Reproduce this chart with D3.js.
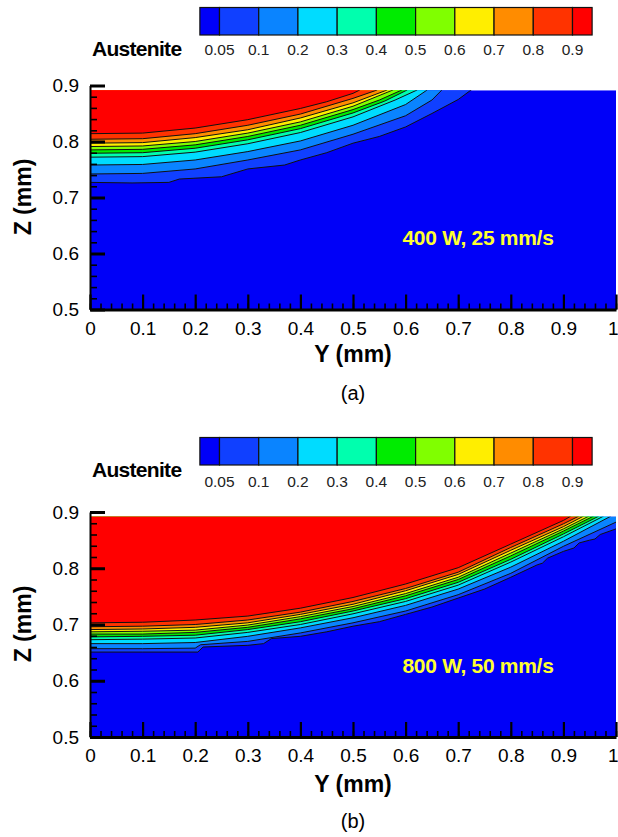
<!DOCTYPE html>
<html><head><meta charset="utf-8">
<script src="https://cdn.jsdelivr.net/npm/d3@7"></script>
<style>body{margin:0;background:#fff}svg{display:block}</style>
</head><body><script>
// ---- data ----
const levels = [0.05, 0.1, 0.2, 0.3, 0.4, 0.5, 0.6, 0.7, 0.8, 0.9];
const levelLabels = ["0.05", "0.1", "0.2", "0.3", "0.4", "0.5", "0.6", "0.7", "0.8", "0.9"];
// band colours: below 0.05, 0.05-0.1, 0.1-0.2, ..., above 0.9
const bandColors = ["#0000f8", "#1040ff", "#0a84ff", "#00dcff", "#00ffae", "#00ec00", "#80ff00", "#ffee00", "#ff8c00", "#ff3300", "#ff0000"];
const xTicks = [0, 0.1, 0.2, 0.3, 0.4, 0.5, 0.6, 0.7, 0.8, 0.9, 1];
const xTickLabels = ["0", "0.1", "0.2", "0.3", "0.4", "0.5", "0.6", "0.7", "0.8", "0.9", "1"];
const zTicks = [0.5, 0.6, 0.7, 0.8, 0.9];
const zTickLabels = ["0.5", "0.6", "0.7", "0.8", "0.9"];
const zDataTop = 0.8915;
const panelTitles = ["(a)", "(b)"];
const conditions = ["400 W, 25 mm/s", "800 W, 50 mm/s"];
const legendTitle = "Austenite";

// contour lines of panel (a): one list of [Y, Z] per level (0.05 ... 0.9)
const contoursA = [
  [[0,0.727],[0.08,0.726],[0.15,0.727],[0.17,0.733],[0.25,0.737],[0.3,0.751],[0.37,0.758],[0.4,0.767],[0.45,0.780],[0.5,0.797],[0.55,0.809],[0.6,0.826],[0.65,0.850],[0.7,0.875],[0.726,0.893],[0.75,0.91]],
  [[0,0.742],[0.1,0.743],[0.2,0.751],[0.3,0.767],[0.4,0.785],[0.5,0.813],[0.6,0.846],[0.65,0.874],[0.669,0.892],[0.69,0.91]],
  [[0,0.758],[0.1,0.759],[0.2,0.767],[0.3,0.782],[0.4,0.801],[0.5,0.829],[0.6,0.866],[0.641,0.892],[0.66,0.91]],
  [[0,0.772],[0.1,0.773],[0.2,0.781],[0.3,0.796],[0.4,0.816],[0.5,0.844],[0.58,0.874],[0.622,0.892],[0.64,0.91]],
  [[0,0.779],[0.1,0.780],[0.2,0.788],[0.3,0.803],[0.4,0.823],[0.5,0.851],[0.56,0.872],[0.603,0.892],[0.62,0.91]],
  [[0,0.785],[0.1,0.786],[0.2,0.794],[0.3,0.809],[0.4,0.829],[0.5,0.857],[0.55,0.874],[0.593,0.892],[0.61,0.91]],
  [[0,0.791],[0.1,0.792],[0.2,0.800],[0.3,0.815],[0.4,0.835],[0.5,0.863],[0.576,0.892],[0.59,0.91]],
  [[0,0.797],[0.1,0.798],[0.2,0.807],[0.3,0.821],[0.4,0.842],[0.5,0.869],[0.565,0.892],[0.58,0.91]],
  [[0,0.804],[0.1,0.805],[0.2,0.814],[0.3,0.829],[0.4,0.849],[0.5,0.877],[0.546,0.892],[0.56,0.91]],
  [[0,0.814],[0.1,0.815],[0.2,0.824],[0.3,0.839],[0.4,0.859],[0.45,0.871],[0.5,0.886],[0.513,0.892],[0.53,0.91]]
];
// contour lines of panel (b)
const contoursB = [
  [[0,0.651],[0.1,0.651],[0.205,0.651],[0.215,0.660],[0.3,0.663],[0.33,0.666],[0.345,0.675],[0.4,0.679],[0.45,0.687],[0.5,0.697],[0.55,0.705],[0.6,0.718],[0.65,0.731],[0.7,0.747],[0.75,0.763],[0.8,0.784],[0.85,0.806],[0.86,0.809],[0.87,0.818],[0.9,0.830],[0.92,0.836],[0.93,0.845],[0.95,0.850],[0.96,0.852],[0.97,0.860],[1.0,0.870],[1.02,0.875]],
  [[0,0.657],[0.1,0.657],[0.2,0.658],[0.21,0.664],[0.3,0.670],[0.4,0.685],[0.5,0.703],[0.6,0.724],[0.7,0.753],[0.8,0.791],[0.9,0.839],[1.0,0.882],[1.02,0.89]],
  [[0,0.666],[0.1,0.666],[0.2,0.668],[0.3,0.679],[0.4,0.694],[0.5,0.712],[0.6,0.734],[0.7,0.763],[0.8,0.802],[0.9,0.848],[0.989,0.892],[1.01,0.91]],
  [[0,0.673],[0.1,0.674],[0.2,0.676],[0.3,0.686],[0.4,0.700],[0.5,0.719],[0.6,0.741],[0.7,0.770],[0.8,0.811],[0.9,0.856],[0.975,0.892],[1.0,0.91]],
  [[0,0.678],[0.1,0.679],[0.2,0.681],[0.3,0.691],[0.4,0.705],[0.5,0.724],[0.6,0.746],[0.7,0.775],[0.8,0.816],[0.9,0.861],[0.966,0.892],[0.99,0.91]],
  [[0,0.683],[0.1,0.683],[0.2,0.686],[0.3,0.695],[0.4,0.710],[0.5,0.728],[0.6,0.751],[0.7,0.780],[0.8,0.822],[0.9,0.866],[0.956,0.892],[0.98,0.91]],
  [[0,0.687],[0.1,0.688],[0.2,0.690],[0.3,0.699],[0.4,0.714],[0.5,0.732],[0.6,0.755],[0.7,0.784],[0.8,0.827],[0.9,0.870],[0.947,0.892],[0.97,0.91]],
  [[0,0.691],[0.1,0.692],[0.2,0.695],[0.3,0.703],[0.4,0.718],[0.5,0.736],[0.6,0.760],[0.7,0.789],[0.8,0.832],[0.9,0.874],[0.937,0.892],[0.96,0.91]],
  [[0,0.696],[0.1,0.697],[0.2,0.700],[0.3,0.708],[0.4,0.722],[0.5,0.741],[0.6,0.764],[0.7,0.793],[0.8,0.837],[0.9,0.879],[0.928,0.892],[0.95,0.91]],
  [[0,0.703],[0.1,0.704],[0.2,0.708],[0.3,0.715],[0.4,0.729],[0.5,0.748],[0.6,0.772],[0.7,0.801],[0.8,0.843],[0.9,0.885],[0.913,0.892],[0.93,0.91]]
];

// ---- drawing ----
const W = 618, H = 837;
const FONT = "'Liberation Sans', Arial, Helvetica, sans-serif";
const svg = d3.select("body").append("svg").attr("width", W).attr("height", H)
  .style("font-family", FONT);
svg.append("rect").attr("width", W).attr("height", H).attr("fill", "#fff");

const panels = [
  {contours: contoursA, legTop: 7.5, legLabelBase: 55, legTitleBase: 55.5, zTop: 85.5, zBottom: 309.5,
   condBase: 245, axisTitleBase: 362, titleBase: 400, zTitleY: 197, idx: 0},
  {contours: contoursB, legTop: 437.5, legLabelBase: 487, legTitleBase: 476.5, zTop: 512, zBottom: 737,
   condBase: 673, axisTitleBase: 792, titleBase: 828, zTitleY: 624, idx: 1}
];

panels.forEach(p => {
  const g = svg.append("g");
  const x = d3.scaleLinear().domain([0, 1]).range([90, 616]);
  const z = d3.scaleLinear().domain([0.5, 0.9]).range([p.zBottom, p.zTop]);

  // legend
  const lx = d3.scaleLinear().domain([0, levels.length - 1]).range([219.5, 572.5]);
  const step = lx(1) - lx(0);
  const legH = 27.5;
  const lg = g.append("g");
  bandColors.forEach((c, i) => {
    const x0 = i === 0 ? lx(0) - step / 2 : lx(i - 1);
    const x1 = i === bandColors.length - 1 ? lx(levels.length - 1) + step / 2 : lx(i);
    lg.append("rect").attr("x", x0).attr("y", p.legTop).attr("width", x1 - x0).attr("height", legH)
      .attr("fill", c).attr("stroke", "#111").attr("stroke-width", 1.2);
  });
  levels.forEach((v, i) => {
    lg.append("text").attr("x", lx(i)).attr("y", p.legLabelBase).attr("text-anchor", "middle")
      .attr("font-size", 15.5).attr("fill", "#222").text(levelLabels[i]);
  });
  lg.append("text").attr("x", 92).attr("y", p.legTitleBase).attr("font-size", 21).attr("font-weight", "bold")
    .attr("letter-spacing", -0.7).attr("fill", "#000").text(legendTitle);

  // plot area
  const clipId = "clip" + p.idx;
  svg.append("defs").append("clipPath").attr("id", clipId).append("rect")
    .attr("x", x(0)).attr("y", z(zDataTop)).attr("width", x(1) - x(0)).attr("height", z(0.5) - z(zDataTop));
  const pg = g.append("g").attr("clip-path", `url(#${clipId})`);
  pg.append("rect").attr("x", x(0)).attr("y", z(zDataTop)).attr("width", x(1) - x(0))
    .attr("height", z(0.5) - z(zDataTop)).attr("fill", bandColors[0]);
  const line = d3.line().x(d => x(d[0])).y(d => z(d[1]));
  p.contours.forEach((pts, i) => {
    const last = pts[pts.length - 1];
    const poly = [[-0.02, pts[0][1]]].concat(pts, [[last[0] + 0.05, 0.95], [-0.02, 0.95]]);
    pg.append("path").attr("d", line(poly) + "Z").attr("fill", bandColors[i + 1]);
  });
  p.contours.forEach(pts => {
    pg.append("path").attr("d", line(pts)).attr("fill", "none").attr("stroke", "#111")
      .attr("stroke-width", 1).attr("stroke-linejoin", "round");
  });

  // condition label
  g.append("text").attr("x", 478).attr("y", p.condBase).attr("text-anchor", "middle")
    .attr("font-size", 21).attr("font-weight", "bold").attr("letter-spacing", -0.3)
    .attr("fill", "#ffff30").text(conditions[p.idx]);

  // axes: minor ticks
  const minorX = d3.range(0, 1.0001, 0.02);
  const minorZ = d3.range(0.5, 0.9001, 0.02);
  const bx = g.append("g").attr("transform", `translate(0,${z(0.5)})`)
    .call(d3.axisBottom(x).tickValues(minorX).tickSize(-6).tickFormat(""));
  bx.select(".domain").remove();
  bx.selectAll("line").attr("stroke", "#000").attr("stroke-width", 1.6);
  const bz = g.append("g").attr("transform", `translate(${x(0)},0)`)
    .call(d3.axisLeft(z).tickValues(minorZ).tickSize(-7).tickFormat(""));
  bz.select(".domain").remove();
  bz.selectAll("line").attr("stroke", "#000").attr("stroke-width", 1.6);

  // major axes
  const ax = g.append("g").attr("transform", `translate(0,${z(0.5)})`)
    .call(d3.axisBottom(x).tickValues(xTicks).tickSize(-15).tickSizeOuter(0).tickPadding(12)
      .tickFormat((d, i) => xTickLabels[i]));
  ax.select(".domain").attr("stroke", "#000").attr("stroke-width", 3);
  ax.selectAll("line").attr("stroke", "#000").attr("stroke-width", 2.2);
  ax.selectAll("text").attr("font-size", 19).attr("font-family", FONT).attr("fill", "#000");
  // keep the last label "1" inside the page
  ax.selectAll("text").filter(d => d === 1).attr("text-anchor", "end").attr("dx", 2);

  const az = g.append("g").attr("transform", `translate(${x(0)},0)`)
    .call(d3.axisLeft(z).tickValues(zTicks).tickSize(-15).tickSizeOuter(0).tickPadding(11)
      .tickFormat((d, i) => zTickLabels[i]));
  az.select(".domain").attr("stroke", "#000").attr("stroke-width", 2);
  az.selectAll("line").attr("stroke", "#000").attr("stroke-width", 3);
  az.selectAll("text").attr("font-size", 19).attr("font-family", FONT).attr("fill", "#000");

  // axis titles
  g.append("text").attr("x", 353).attr("y", p.axisTitleBase).attr("text-anchor", "middle")
    .attr("font-size", 23).attr("font-weight", "bold").attr("fill", "#000").text("Y (mm)");
  g.append("text").attr("transform", `translate(31,${p.zTitleY}) rotate(-90)`).attr("text-anchor", "middle")
    .attr("font-size", 23).attr("font-weight", "bold").attr("fill", "#000").text("Z (mm)");
  g.append("text").attr("x", 353).attr("y", p.titleBase).attr("text-anchor", "middle")
    .attr("font-size", 20).attr("fill", "#000").text(panelTitles[p.idx]);
});
</script></body></html>
